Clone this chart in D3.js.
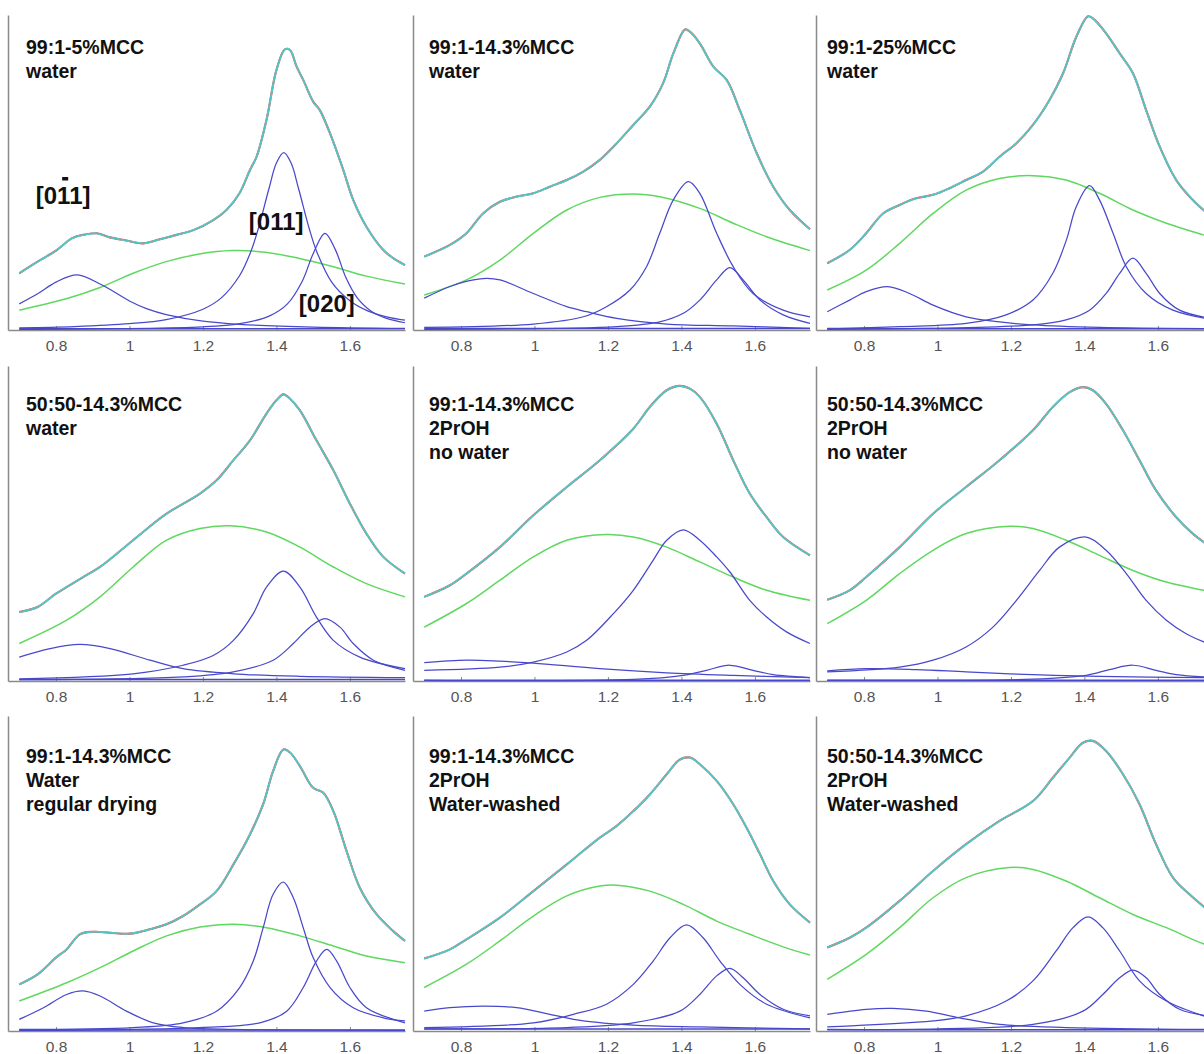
<!DOCTYPE html>
<html><head><meta charset="utf-8">
<script src="https://cdn.jsdelivr.net/npm/d3@7"></script>
<style>html,body{margin:0;padding:0;background:#fff;overflow:hidden}svg{display:block}</style>
</head><body><svg id="c" width="1204" height="1054"></svg>
<script>
// ---------------- DATA ----------------
const xTickValues = [0.8, 1, 1.2, 1.4, 1.6];
const xTickLabels = ["0.8", "1", "1.2", "1.4", "1.6"];

const panelTitles = [
  ["99:1-5%MCC", "water"],
  ["99:1-14.3%MCC", "water"],
  ["99:1-25%MCC", "water"],
  ["50:50-14.3%MCC", "water"],
  ["99:1-14.3%MCC", "2PrOH", "no water"],
  ["50:50-14.3%MCC", "2PrOH", "no water"],
  ["99:1-14.3%MCC", "Water", "regular drying"],
  ["99:1-14.3%MCC", "2PrOH", "Water-washed"],
  ["50:50-14.3%MCC", "2PrOH", "Water-washed"]
];

// measured profile (% of panel height) vs x
const profiles = [
  [[.70,18.0],[.75,21.7],[.80,25.2],[.843,29.1],[.874,30.2],[.911,30.7],[.947,29.4],[.992,28.4],[1.038,27.5],[1.083,28.8],[1.128,30.2],[1.174,31.7],[1.228,34.9],[1.264,38.1],[1.30,43.5],[1.328,50.8],[1.346,55.0],[1.373,66.7],[1.40,82.5],[1.423,89.1],[1.437,88.9],[1.455,83.6],[1.473,79.4],[1.50,72.5],[1.518,69.8],[1.546,62.4],[1.582,50.8],[1.609,41.3],[1.645,32.8],[1.691,25.4],[1.718,22.8],[1.75,20.6]],
  [[.70,23.3],[.77,27.0],[.815,30.7],[.86,37.0],[.906,40.7],[.95,42.3],[.997,43.4],[1.042,45.5],[1.088,47.6],[1.133,50.3],[1.178,54.0],[1.224,59.3],[1.269,65.1],[1.314,70.9],[1.35,78.3],[1.378,87.8],[1.41,95.4],[1.423,94.7],[1.45,91.0],[1.487,83.6],[1.523,79.4],[1.559,69.8],[1.605,56.1],[1.65,45.5],[1.695,38.1],[1.75,32.0]],
  [[.70,21.2],[.761,25.4],[.806,30.7],[.852,37.0],[.897,39.7],[.942,41.8],[.988,42.9],[1.033,45.0],[1.078,47.6],[1.124,50.3],[1.169,55.0],[1.215,59.3],[1.26,65.1],[1.305,73.0],[1.342,81.5],[1.378,93.1],[1.41,99.6],[1.423,98.9],[1.459,94.2],[1.496,87.8],[1.532,81.5],[1.568,69.8],[1.605,58.2],[1.65,47.6],[1.695,41.3],[1.75,35.5]],
  [[.70,21.9],[.75,23.5],[.80,27.7],[.874,33.0],[.92,36.2],[1.01,44.7],[1.101,53.1],[1.192,59.5],[1.237,63.7],[1.283,70.1],[1.328,76.4],[1.373,84.9],[1.40,89.1],[1.419,91.0],[1.437,89.6],[1.464,85.9],[1.509,76.4],[1.555,66.9],[1.60,56.3],[1.645,46.8],[1.691,39.4],[1.75,34.1]],
  [[.70,26.7],[.77,30.4],[.815,34.1],[.906,42.5],[.997,52.6],[1.088,61.6],[1.178,70.1],[1.269,80.1],[1.314,87.0],[1.36,92.3],[1.396,93.7],[1.423,92.8],[1.45,90.2],[1.496,81.7],[1.541,70.1],[1.586,59.5],[1.632,52.0],[1.677,45.7],[1.75,39.9]],
  [[.70,25.8],[.761,28.8],[.806,33.0],[.897,42.5],[.988,53.1],[1.078,61.6],[1.169,70.1],[1.26,79.6],[1.314,87.0],[1.36,91.7],[1.396,93.3],[1.423,92.3],[1.459,88.0],[1.505,79.6],[1.55,70.1],[1.595,60.5],[1.65,52.0],[1.695,46.8],[1.75,42.0]],
  [[.70,14.8],[.75,18.0],[.80,23.3],[.829,25.9],[.865,30.7],[.902,31.5],[.947,31.2],[1.001,30.9],[1.056,32.3],[1.101,33.9],[1.146,36.5],[1.192,40.2],[1.237,44.4],[1.283,52.9],[1.328,62.4],[1.364,72.0],[1.391,82.5],[1.419,89.4],[1.437,88.4],[1.464,84.1],[1.50,77.2],[1.527,75.7],[1.555,69.8],[1.591,57.1],[1.627,45.5],[1.673,37.0],[1.718,31.7],[1.75,28.6]],
  [[.70,23.0],[.77,25.9],[.815,29.1],[.906,36.0],[.997,44.4],[1.088,52.9],[1.178,61.4],[1.224,65.1],[1.269,69.8],[1.314,75.1],[1.36,81.5],[1.396,86.2],[1.423,86.8],[1.45,84.7],[1.496,79.4],[1.541,72.0],[1.577,64.6],[1.614,56.1],[1.65,47.6],[1.695,40.2],[1.75,34.4]],
  [[.70,26.5],[.761,29.6],[.806,32.8],[.897,41.3],[.988,50.8],[1.078,59.3],[1.169,66.7],[1.26,73.0],[1.314,80.4],[1.36,86.8],[1.396,91.5],[1.423,92.1],[1.459,88.9],[1.505,81.5],[1.55,72.0],[1.595,59.3],[1.641,48.7],[1.686,43.4],[1.75,37.0]]
];

// broad (amorphous) component, green
const broadComponent = [
  [[.70,6.3],[.83,10.0],[.92,13.5],[1.01,18.0],[1.10,21.7],[1.19,24.1],[1.28,25.2],[1.37,24.7],[1.46,22.8],[1.555,20.1],[1.645,17.1],[1.75,14.6]],
  [[.70,11.1],[.815,15.9],[.906,22.2],[.997,30.7],[1.088,38.1],[1.178,42.1],[1.269,43.2],[1.341,42.3],[1.45,38.6],[1.541,33.9],[1.632,29.6],[1.75,25.2]],
  [[.70,12.7],[.806,19.0],[.897,27.5],[.988,37.0],[1.078,44.4],[1.169,48.1],[1.26,49.0],[1.35,47.6],[1.441,43.4],[1.532,38.1],[1.623,33.9],[1.724,30.2],[1.75,29.3]],
  [[.70,11.9],[.829,19.3],[.92,26.7],[1.01,36.2],[1.101,44.7],[1.192,48.4],[1.273,49.3],[1.373,47.3],[1.464,42.5],[1.555,36.2],[1.645,30.9],[1.75,26.7]],
  [[.70,17.1],[.815,24.6],[.906,32.0],[.997,39.4],[1.088,44.7],[1.196,46.5],[1.269,45.7],[1.36,42.5],[1.45,37.8],[1.541,33.0],[1.632,28.8],[1.75,25.6]],
  [[.70,18.2],[.806,25.6],[.897,34.1],[.988,41.5],[1.078,46.8],[1.196,49.1],[1.26,48.4],[1.35,44.7],[1.441,39.9],[1.532,35.1],[1.623,31.4],[1.724,28.8],[1.75,28.2]],
  [[.70,9.5],[.829,15.3],[.92,20.1],[1.01,25.4],[1.101,30.2],[1.192,33.0],[1.283,33.9],[1.373,32.8],[1.464,30.2],[1.555,27.0],[1.645,23.8],[1.75,21.7]],
  [[.70,13.8],[.815,21.2],[.906,28.6],[.997,36.5],[1.088,42.9],[1.178,46.0],[1.224,46.3],[1.314,44.4],[1.405,40.2],[1.496,34.9],[1.586,30.7],[1.677,26.7],[1.75,24.1]],
  [[.70,16.4],[.806,24.3],[.897,32.8],[.988,42.3],[1.078,48.7],[1.196,51.9],[1.26,51.3],[1.35,47.6],[1.441,42.3],[1.532,37.0],[1.623,32.8],[1.724,27.7],[1.75,27.0]]
];

// [0-11] reflection component
const peak0m11 = [
  [[.70,8.3],[.75,11.5],[.80,15.2],[.858,17.5],[.92,14.6],[.95,12.7],[1.0,9.2],[1.05,6.6],[1.1,4.9],[1.2,2.8],[1.3,1.8],[1.5,0.9],[1.75,0.5]],
  [[.70,10.1],[.77,13.8],[.82,15.6],[.87,16.4],[.906,15.9],[.997,11.6],[1.088,7.4],[1.142,5.8],[1.224,3.7],[1.36,1.9],[1.54,1.3],[1.75,0.5]],
  [[.70,5.8],[.761,9.5],[.806,12.2],[.865,13.8],[.924,11.6],[.988,7.9],[1.078,4.2],[1.169,2.6],[1.26,1.6],[1.441,0.8],[1.75,0.4]],
  [[.70,7.6],[.784,10.3],[.865,11.6],[.947,10.3],[1.056,6.6],[1.146,3.9],[1.283,2.3],[1.464,1.5],[1.75,1.1]],
  [[.70,5.8],[.815,6.6],[.906,6.3],[.997,5.7],[1.178,3.9],[1.36,2.6],[1.541,1.8],[1.75,1.1]],
  [[.70,3.2],[.806,3.9],[.942,3.6],[1.078,2.9],[1.26,2.0],[1.441,1.5],[1.75,1.0]],
  [[.70,3.7],[.766,7.4],[.829,11.6],[.874,12.7],[.92,11.1],[.992,6.3],[1.065,2.6],[1.146,1.1],[1.283,0.5],[1.75,0.2]],
  [[.70,6.3],[.77,7.4],[.86,7.9],[.951,7.4],[1.042,5.3],[1.133,3.2],[1.269,1.9],[1.45,1.3],[1.75,0.7]],
  [[.70,5.3],[.806,6.9],[.879,7.2],[.97,6.3],[1.06,4.2],[1.169,2.1],[1.35,1.1],[1.75,0.5]]
];

// [011] reflection component
const peak011 = [
  [[.70,0.7],[.85,1.1],[1.0,2.0],[1.1,3.3],[1.2,6.6],[1.25,10.2],[1.30,17.3],[1.33,24.8],[1.35,31.9],[1.38,45.0],[1.40,53.0],[1.42,56.3],[1.44,53.0],[1.46,45.0],[1.49,31.9],[1.51,24.8],[1.55,15.3],[1.60,9.3],[1.65,6.0],[1.70,4.2],[1.75,3.1]],
  [[.70,0.8],[.997,1.9],[1.133,4.2],[1.196,7.4],[1.26,12.7],[1.305,20.1],[1.341,30.7],[1.378,41.3],[1.419,47.1],[1.45,43.4],[1.496,30.7],[1.541,20.1],[1.595,11.6],[1.677,6.3],[1.75,4.2]],
  [[.70,0.5],[.897,1.1],[1.078,2.1],[1.187,4.8],[1.26,9.5],[1.314,18.0],[1.351,28.6],[1.378,39.2],[1.414,45.8],[1.441,41.3],[1.478,30.7],[1.514,20.1],[1.568,11.6],[1.641,6.3],[1.75,3.3]],
  [[.70,0.7],[1.01,2.3],[1.146,5.0],[1.228,8.1],[1.283,12.9],[1.337,21.4],[1.373,29.8],[1.419,34.9],[1.464,29.8],[1.509,20.3],[1.555,12.9],[1.627,7.6],[1.75,3.9]],
  [[.70,3.4],[.906,4.4],[.997,6.0],[1.088,9.2],[1.142,12.9],[1.215,21.4],[1.269,28.8],[1.323,38.3],[1.36,44.7],[1.405,48.0],[1.45,44.7],[1.496,39.4],[1.532,34.6],[1.586,25.6],[1.632,20.3],[1.686,15.6],[1.75,11.9]],
  [[.70,2.9],[.897,4.4],[.988,6.6],[1.078,10.8],[1.151,17.1],[1.215,25.6],[1.278,35.1],[1.332,42.5],[1.405,45.7],[1.459,41.5],[1.514,34.1],[1.568,25.6],[1.623,19.3],[1.677,15.0],[1.75,11.2]],
  [[.70,0.5],[1.01,1.1],[1.146,2.6],[1.237,6.3],[1.30,13.8],[1.337,22.2],[1.364,32.8],[1.391,43.4],[1.419,47.3],[1.446,42.3],[1.473,32.8],[1.50,23.3],[1.546,13.8],[1.609,7.4],[1.691,4.2],[1.75,3.2]],
  [[.70,1.1],[.997,2.6],[1.106,5.3],[1.196,8.5],[1.269,14.8],[1.323,22.2],[1.369,29.6],[1.414,33.7],[1.459,29.6],[1.505,22.2],[1.559,14.8],[1.632,8.5],[1.75,4.2]],
  [[.70,1.3],[.988,3.2],[1.078,4.8],[1.187,9.5],[1.26,15.9],[1.323,25.4],[1.369,32.8],[1.41,36.2],[1.45,32.8],[1.496,25.4],[1.55,15.9],[1.623,9.5],[1.75,3.8]]
];

// [020] reflection component
const peak020 = [
  [[.70,0.2],[1.2,1.0],[1.3,2.0],[1.38,4.4],[1.43,8.3],[1.47,15.4],[1.50,24.2],[1.532,30.7],[1.56,25.6],[1.59,16.4],[1.62,10.2],[1.66,5.8],[1.70,3.7],[1.75,2.3]],
  [[.70,0.2],[1.224,1.1],[1.341,2.6],[1.405,5.3],[1.45,9.5],[1.496,15.9],[1.532,19.8],[1.568,15.9],[1.614,9.5],[1.677,4.8],[1.75,2.1]],
  [[.70,0.2],[1.26,1.6],[1.35,3.2],[1.414,6.3],[1.459,11.6],[1.496,18.0],[1.532,22.8],[1.568,18.0],[1.605,11.6],[1.659,6.3],[1.75,3.6]],
  [[.70,0.4],[1.146,1.3],[1.283,2.9],[1.391,6.6],[1.446,11.9],[1.491,17.1],[1.532,19.8],[1.573,17.1],[1.609,11.9],[1.664,6.6],[1.75,3.4]],
  [[.70,0.2],[1.269,0.5],[1.405,1.8],[1.468,3.4],[1.532,5.0],[1.595,3.4],[1.65,2.0],[1.75,1.1]],
  [[.70,0.2],[1.26,0.6],[1.405,1.8],[1.468,3.6],[1.532,5.0],[1.595,3.4],[1.65,2.0],[1.75,1.2]],
  [[.70,0.2],[1.192,1.1],[1.355,2.6],[1.428,6.3],[1.473,13.8],[1.509,22.2],[1.537,25.9],[1.564,22.2],[1.60,13.8],[1.645,7.4],[1.75,2.6]],
  [[.70,0.7],[1.088,1.1],[1.269,2.6],[1.396,6.3],[1.45,11.6],[1.496,17.5],[1.532,19.9],[1.568,16.9],[1.614,11.6],[1.677,6.9],[1.75,4.8]],
  [[.70,0.5],[1.26,2.1],[1.396,6.3],[1.45,11.6],[1.496,16.9],[1.532,19.3],[1.568,16.9],[1.605,11.6],[1.659,6.9],[1.75,4.6]]
];

// flat baseline component level per panel
const baselineLevel = [0.4, 0.5, 0.4, 0.5, 0.2, 0.2, 0.3, 0.6, 0.4];
const baselineRange = [0.70, 1.75];

// reflection annotations (first panel only), anchored in data coords
const annotationText = ["[011]", "[011]", "[020]"];
const annotationX = [0.745, 1.325, 1.461];
const annotationY = [40.0, 31.7, 5.7];
const annotationBarChar = [2, -1, -1];

// ---------------- LAYOUT / STYLE ----------------
const colLeft = [8, 413, 816];
const rowTop = [15, 366, 716];
const PW = 397, PH = 315;
const titleDx = [18, 16, 11];
const titleDy = [39, 45, 47];
const titleLH = 24;
const FONT = "'Liberation Sans', Arial, Helvetica, sans-serif";
const C_BLUE = "#4848cc", C_GREEN = "#5fd85f", C_CYAN = "#4fe2e2", C_RED = "#e83030";

const svg = d3.select("#c");
svg.append("rect").attr("width", 1204).attr("height", 1054).attr("fill", "#fff");

const x = d3.scaleLinear().domain([0.6694, 1.75]).range([0, PW]);
const y = d3.scaleLinear().domain([0, 100]).range([PH, 0]);
const smooth = d3.line().x(d => x(d[0])).y(d => y(d[1])).curve(d3.curveCatmullRom.alpha(0.5));
const flat = d3.line().x(d => x(d[0])).y(d => y(d[1]));

panelTitles.forEach((title, i) => {
  const r = Math.floor(i / 3), c = i % 3;
  const g = svg.append("g").attr("transform", `translate(${colLeft[c]},${rowTop[r]})`);

  // axes
  const ax = d3.axisBottom(x).tickValues(xTickValues)
    .tickFormat((d, k) => xTickLabels[k]).tickSizeInner(-4).tickSizeOuter(0).tickPadding(10);
  const gx = g.append("g").attr("transform", `translate(0,${PH})`).call(ax);
  gx.select(".domain").attr("stroke", "#8a8a8a").attr("stroke-width", 1.5);
  gx.selectAll(".tick line").attr("stroke", "#8a8a8a").attr("stroke-width", 1);
  gx.selectAll(".tick text").attr("fill", "#555").style("font-family", FONT).style("font-size", "15.5px");
  const gy = g.append("g").call(d3.axisLeft(y).tickValues([]).tickSizeOuter(0));
  gy.select(".domain").attr("stroke", "#8a8a8a").attr("stroke-width", 1.5);

  // components
  const comps = g.append("g").attr("fill", "none");
  comps.append("path").datum(broadComponent[i]).attr("d", smooth).attr("stroke", C_GREEN).attr("stroke-width", 1.5);
  comps.append("path").datum(baselineRange.map(v => [v, baselineLevel[i]])).attr("d", flat).attr("stroke", C_BLUE).attr("stroke-width", 1.5);
  [peak0m11, peak011, peak020].forEach(arr => {
    comps.append("path").datum(arr[i]).attr("d", smooth).attr("stroke", C_BLUE).attr("stroke-width", 1.25);
  });

  // measured profile (red / dark) + fit (cyan)
  comps.append("path").datum(profiles[i]).attr("d", smooth).attr("stroke", C_RED).attr("stroke-width", 2.1);
  comps.append("path").datum(profiles[i]).attr("d", smooth).attr("stroke", C_CYAN).attr("stroke-width", 1.8);
  comps.append("path").datum(profiles[i]).attr("d", smooth).attr("stroke", "#555").attr("stroke-width", 0.7).attr("opacity", 0.4);

  // title
  const t = g.append("text").attr("x", titleDx[c]).attr("y", titleDy[r])
    .style("font-family", FONT).style("font-size", "19.5px").style("font-weight", "bold").attr("fill", "#111");
  title.forEach((line, k) => t.append("tspan").attr("x", titleDx[c]).attr("y", titleDy[r] + k * titleLH).text(line));

  if (i === 0) {
    annotationText.forEach((txt, k) => {
      const tx = x(annotationX[k]), ty = y(annotationY[k]);
      const el = g.append("text").attr("x", tx).attr("y", ty)
        .style("font-family", FONT).style("font-size", "24px").style("font-weight", "bold")
        .attr("fill", "#111").text(txt);
      if (annotationBarChar[k] >= 0) {
        const n = el.node();
        const s = n.getStartPositionOfChar(annotationBarChar[k]).x;
        const e = n.getEndPositionOfChar(annotationBarChar[k]).x;
        const w = e - s;
        g.append("rect").attr("x", s + 0.42 * w).attr("y", ty - 27).attr("width", 0.5 * w).attr("height", 3.5).attr("fill", "#111");
      }
    });
  }
});
</script></body></html>
